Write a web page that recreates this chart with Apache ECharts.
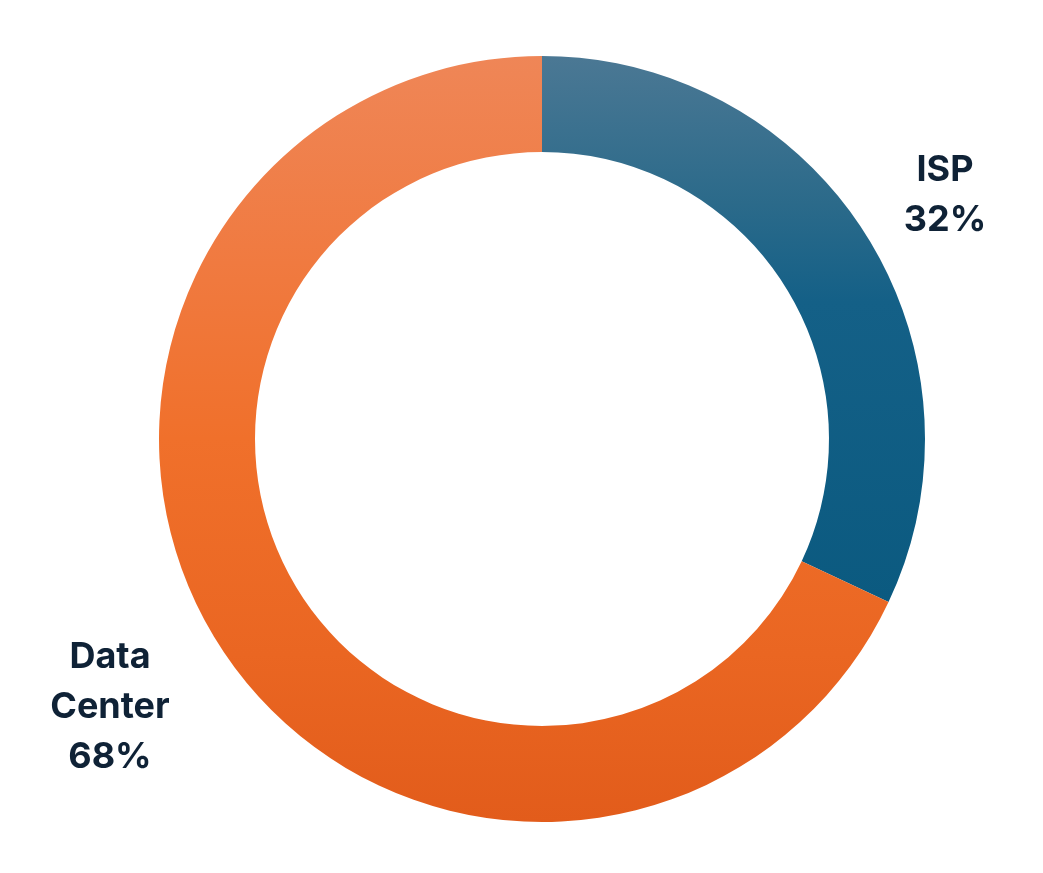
<!DOCTYPE html>
<html>
<head>
<meta charset="utf-8">
<style>
  html, body { margin: 0; padding: 0; background: #ffffff; }
  #chart { width: 1043px; height: 873px; }
</style>
<script src="https://cdn.jsdelivr.net/npm/echarts@6/dist/echarts.min.js"></script>
</head>
<body>
<div id="chart"></div>
<script>
const categories = ['ISP', 'Data Center'];
const shares = [32, 68];
const labelNames = ['ISP', 'Data\nCenter'];

// vertical gradient stops per slice
const gradients = [
  [[0, '#4b7894'], [0.27, '#2b6a8a'], [0.45, '#146087'], [1, '#0b5a80']],
  [[0, '#ef8657'], [0.27, '#f07a40'], [0.5, '#f0702b'], [0.78, '#ea6622'], [1, '#e25c1b']]
];
// centre of each label block
const labelSpots = [[945, 195], [110, 707]];

const chart = echarts.init(document.getElementById('chart'));

chart.setOption({
  backgroundColor: '#ffffff',
  animation: false,
  series: [
    {
      type: 'pie',
      center: [542, 439],
      radius: [287, 383],
      startAngle: 90,
      clockwise: true,
      avoidLabelOverlap: false,
      label: {
        show: true,
        position: 'outside',
        formatter: p => labelNames[p.dataIndex] + '\n' + p.value + '%',
        fontFamily: 'Inter',
        fontWeight: 700,
        fontSize: 36,
        lineHeight: 50,
        color: '#0f2236',
        align: 'center'
      },
      labelLine: { show: false },
      labelLayout: p => ({
        x: labelSpots[p.dataIndex][0],
        y: labelSpots[p.dataIndex][1],
        align: 'center',
        verticalAlign: 'middle'
      }),
      emphasis: { disabled: true },
      data: categories.map((name, i) => ({
        name: name,
        value: shares[i],
        itemStyle: {
          color: new echarts.graphic.LinearGradient(0, 0, 0, 1,
            gradients[i].map(s => ({ offset: s[0], color: s[1] })))
        }
      }))
    }
  ]
});
</script>
</body>
</html>
